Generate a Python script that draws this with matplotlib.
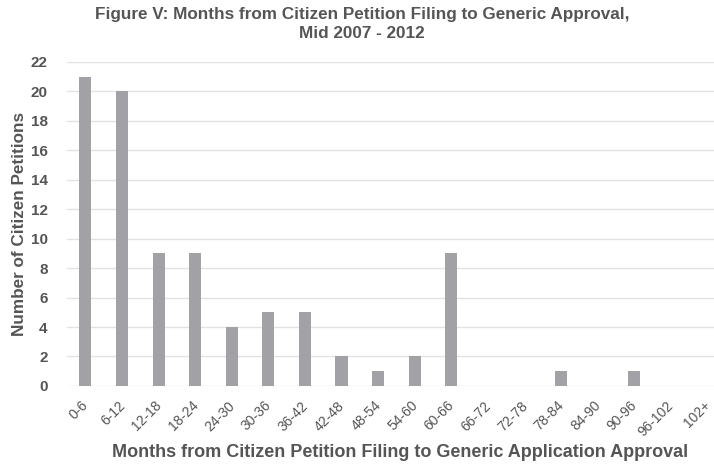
import matplotlib
matplotlib.use("Agg")
import matplotlib.pyplot as plt
import matplotlib.transforms as mtransforms
import numpy as np

# Bins in months and petition counts per bin
bins = ["0-6", "6-12", "12-18", "18-24", "24-30", "30-36", "36-42", "42-48",
        "48-54", "54-60", "60-66", "66-72", "72-78", "78-84", "84-90", "90-96",
        "96-102", "102+"]
counts = [21, 20, 9, 9, 4, 5, 5, 2, 1, 2, 9, 0, 0, 1, 0, 1, 0, 0]
y_ticks = list(range(0, 23, 2))

text_col = "#555555"
plt.rcParams["font.family"] = ["Liberation Sans", "DejaVu Sans"]

fig = plt.figure(figsize=(7.14, 4.65), dpi=100)
ax = fig.add_axes([0.094, 0.17, 0.906, 0.697])

x = np.arange(len(bins))
ax.bar(x, counts, width=0.33, color="#a2a2a6", zorder=3)

ax.set_xlim(-0.5, 17.18)
ax.set_ylim(0, 22)
ax.set_yticks(y_ticks)
ax.set_xticks(x)
ax.set_xticklabels(bins, rotation=45, ha="right", va="top", rotation_mode="anchor")
ax.tick_params(axis="both", length=0, colors=text_col)
ax.tick_params(axis="y", pad=14, labelsize=11)
ax.tick_params(axis="x", pad=9, labelsize=10)
for lbl in ax.get_yticklabels():
    lbl.set_fontweight("bold")
# nudge the slanted labels a little left so the last one stays inside
shift = mtransforms.ScaledTranslation(-3 / 72, 0, fig.dpi_scale_trans)
for lbl in ax.get_xticklabels():
    lbl.set_transform(lbl.get_transform() + shift)
ax.grid(axis="y", color="#e2e2e2", linewidth=1, zorder=0)
for s in ax.spines.values():
    s.set_visible(False)

fig.text(0.507, 1 - 15 / 465, "Figure V: Months from Citizen Petition Filing to Generic Approval,",
         ha="center", va="center", fontsize=12.3, fontweight="bold", color=text_col)
fig.text(0.507, 1 - 33 / 465, "Mid 2007 - 2012",
         ha="center", va="center", fontsize=12.3, fontweight="bold", color=text_col)
fig.text(20 / 714, 0.17 + 0.697 / 2, "Number of Citizen Petitions", rotation=90,
         ha="center", va="center", fontsize=12.3, fontweight="bold", color=text_col)
fig.text(0.56, 1 - 452 / 465, "Months from Citizen Petition Filing to Generic Application Approval",
         ha="center", va="center", fontsize=13, fontweight="bold", color=text_col)

fig.savefig("out.png", dpi=100)
